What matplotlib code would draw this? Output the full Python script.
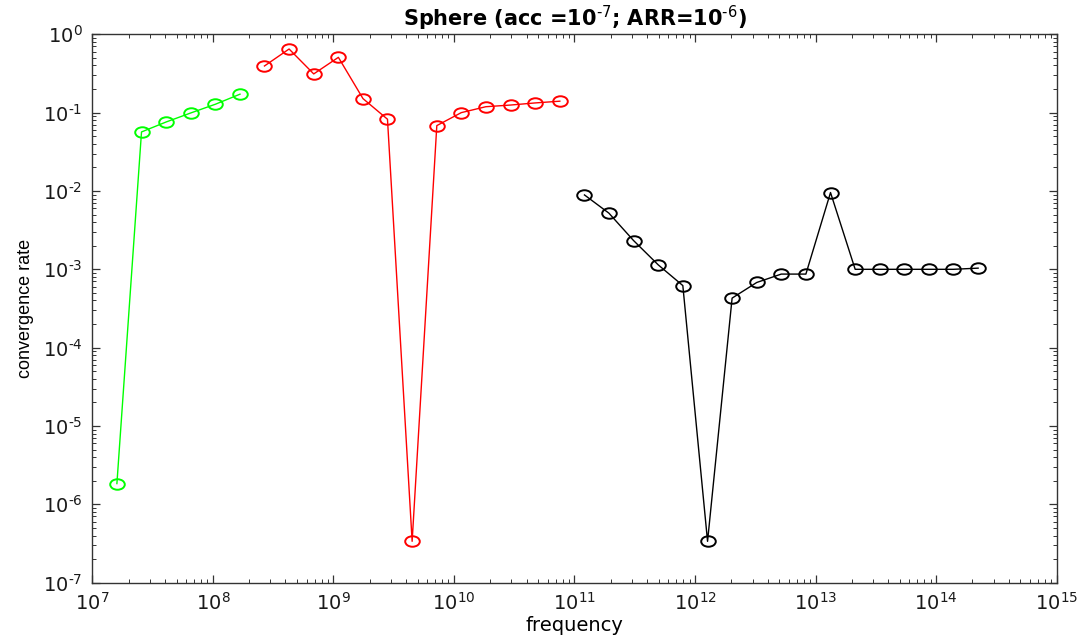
import matplotlib
matplotlib.use("Agg")
import matplotlib.pyplot as plt
from matplotlib.path import Path
from matplotlib.ticker import LogLocator, NullFormatter, FuncFormatter
import numpy as np

# frequency / convergence rate, three frequency bands
green_f = [1.60e7, 2.56e7, 4.10e7, 6.55e7, 1.05e8, 1.68e8]
green_r = [1.84e-6, 0.0567, 0.076, 0.099, 0.128, 0.172]

red_f = [2.68e8, 4.29e8, 6.87e8, 1.10e9, 1.76e9, 2.81e9, 4.50e9,
         7.21e9, 1.15e10, 1.84e10, 2.95e10, 4.72e10, 7.56e10]
red_r = [0.394, 0.649, 0.312, 0.508, 0.151, 0.0824, 3.37e-7,
         0.0683, 0.100, 0.119, 0.125, 0.133, 0.140]

black_f = [1.21e11, 1.93e11, 3.09e11, 4.95e11, 7.92e11, 1.27e12, 2.03e12,
           3.25e12, 5.19e12, 8.31e12, 1.33e13, 2.13e13, 3.40e13, 5.44e13,
           8.71e13, 1.39e14, 2.23e14]
black_r = [8.9e-3, 5.21e-3, 2.33e-3, 1.14e-3, 6.2e-4, 3.37e-7, 4.29e-4,
           6.79e-4, 8.69e-4, 8.69e-4, 9.55e-3, 1.0e-3, 1.0e-3, 1.0e-3,
           1.0e-3, 1.0e-3, 1.035e-3]

plt.rcParams.update({
    "font.family": ["DejaVu Sans"],
    "mathtext.fontset": "dejavusans",
    "axes.unicode_minus": False,
})

# MATLAB-ish 'o' marker, a bit wider than tall (the original was stretched)
circ = Path.unit_circle()
oval = Path(circ.vertices * [1.0, 0.72], circ.codes)


def pow10(v, pos):
    e = int(round(np.log10(v)))
    if e < 0:
        return r"10$^{\text{-%d}}$" % (-e)
    return r"10$^{%d}$" % e


fig = plt.figure(figsize=(10.82, 6.41), dpi=100, facecolor="white")
ax = fig.add_axes([0.0853, 0.0910, 0.8913, 0.8555])

style = dict(marker=oval, markersize=10.5, markerfacecolor="none",
             markeredgewidth=1.4, lw=1.0)
ax.plot(green_f, green_r, color="#00ff00", **style)
ax.plot(red_f, red_r, color="#ff0000", **style)
ax.plot(black_f, black_r, color="black", **style)

ax.set_xscale("log")
ax.set_yscale("log")
ax.set_xlim(1e7, 1e15)
ax.set_ylim(1e-7, 1e0)

ax.xaxis.set_major_locator(LogLocator(base=10, numticks=20))
ax.yaxis.set_major_locator(LogLocator(base=10, numticks=20))
ax.xaxis.set_minor_locator(LogLocator(base=10, subs=range(2, 10), numticks=200))
ax.yaxis.set_minor_locator(LogLocator(base=10, subs=range(2, 10), numticks=200))
ax.xaxis.set_major_formatter(FuncFormatter(pow10))
ax.yaxis.set_major_formatter(FuncFormatter(pow10))
ax.xaxis.set_minor_formatter(NullFormatter())
ax.yaxis.set_minor_formatter(NullFormatter())

ax.tick_params(which="both", direction="in", top=True, right=True,
               colors="#333333", labelcolor="#1a1a1a")
ax.tick_params(which="major", length=6, width=0.9, labelsize=14, pad=7)
ax.tick_params(which="minor", length=3, width=0.7)
for s in ax.spines.values():
    s.set_color("#333333")
    s.set_linewidth(1.0)

ax.set_title(r"Sphere (acc =10$^{\text{-7}}$; ARR=10$^{\text{-6}}$)",
             fontsize=15, fontweight="bold", pad=6)
ax.set_xlabel("frequency", fontsize=14, labelpad=1)
ax.set_ylabel("convergence rate", fontsize=13, labelpad=6,
              family="Liberation Sans")

fig.savefig("out.png", dpi=100, facecolor="white")
